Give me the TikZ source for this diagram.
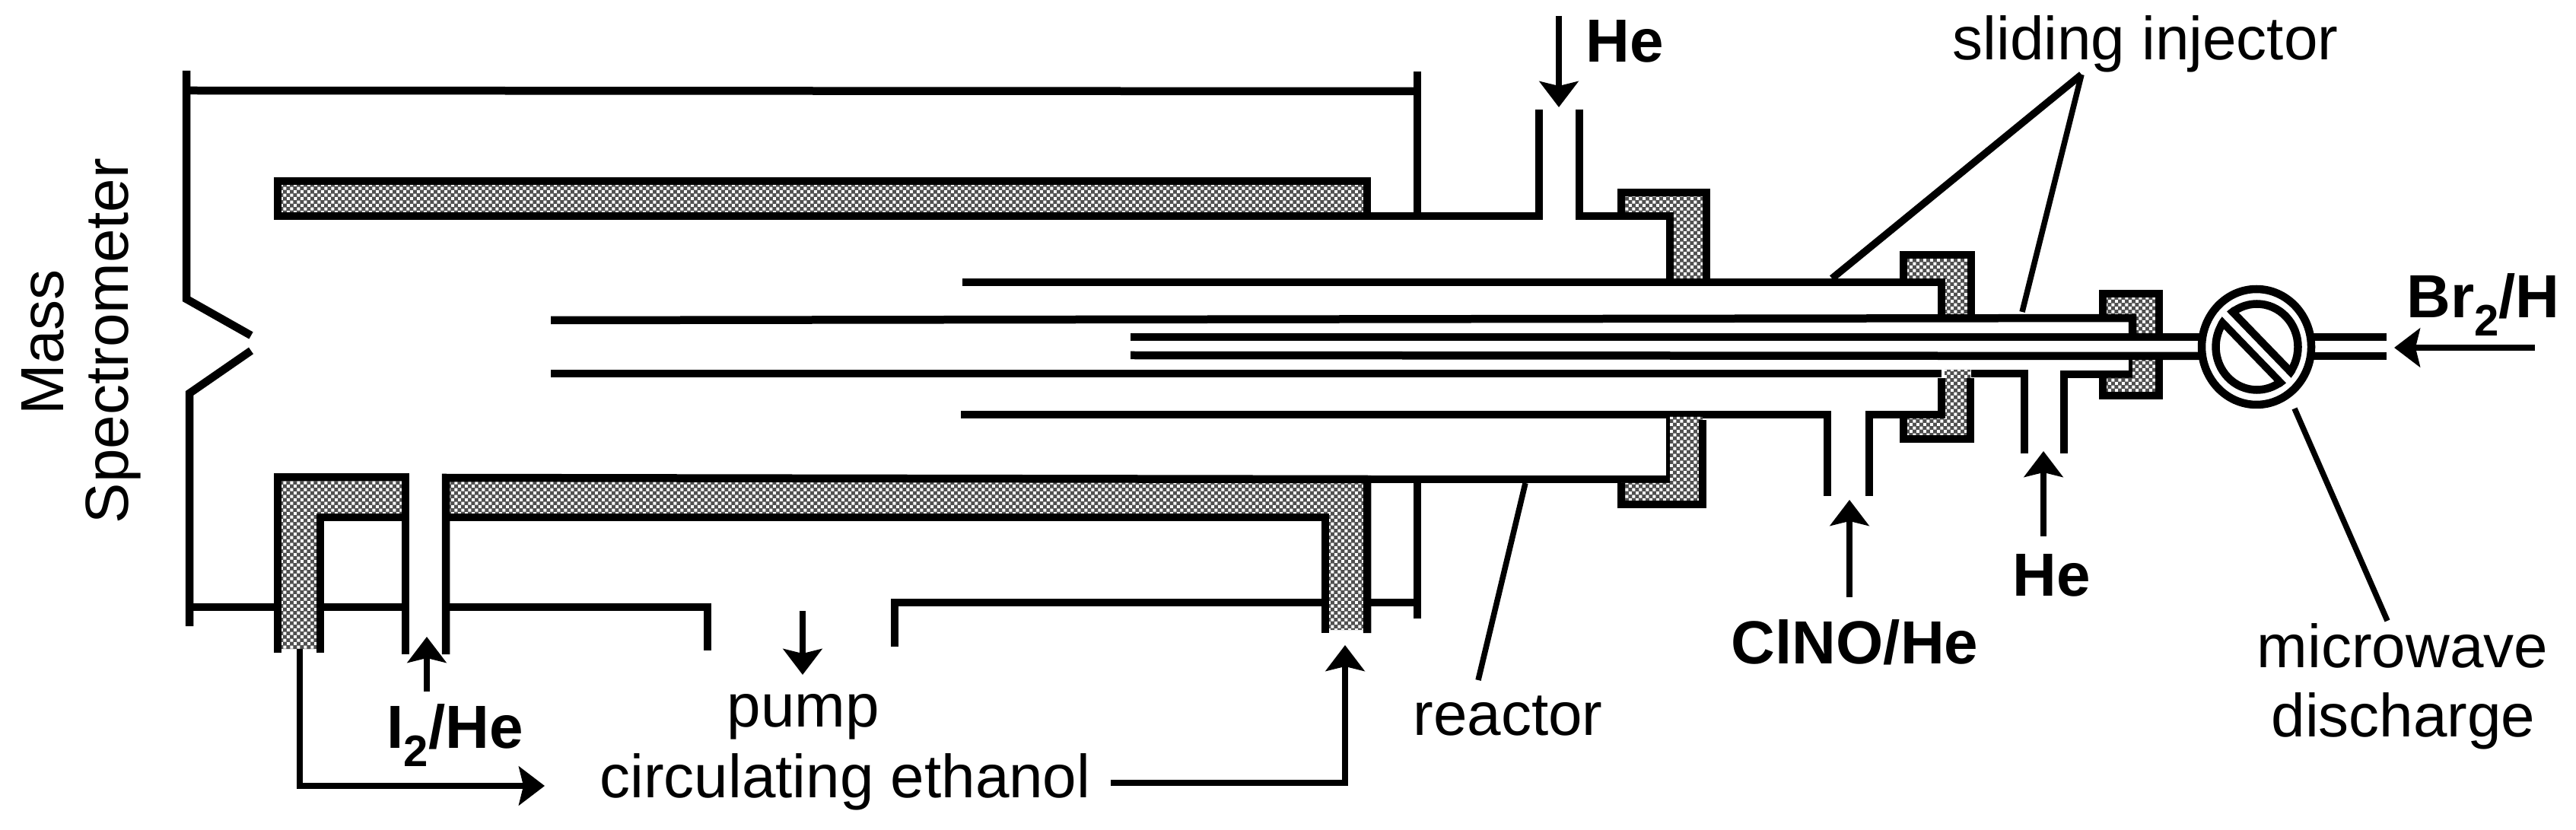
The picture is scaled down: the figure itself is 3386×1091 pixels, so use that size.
\documentclass[tikz,border=0pt]{standalone}
\usepackage{fontspec}
\setmainfont{Liberation Sans}
\usetikzlibrary{arrows.meta,patterns}
\definecolor{chkc}{HTML}{505050}
\pgfdeclarepatternformonly{chk}{\pgfpointorigin}{\pgfpoint{.9mm}{.9mm}}{\pgfpoint{.9mm}{.9mm}}{%
  \pgfpathrectangle{\pgfpointorigin}{\pgfpoint{.4mm}{.4mm}}%
  \pgfpathrectangle{\pgfpoint{.45mm}{.45mm}}{\pgfpoint{.4mm}{.4mm}}%
  \pgfusepath{fill}}
\newcommand{\subtwo}{\raisebox{-2.4mm}{\fontsize{5.8mm}{6mm}\selectfont 2}}
\tikzset{
  wall/.style={line width=1.05mm,line cap=butt,line join=miter},
  chkfill/.style={fill=chkc,postaction={pattern=chk,pattern color=white}},
  leaderthick/.style={line width=.95mm},
  leaderthin/.style={line width=.75mm},
  flow/.style={line width=.8mm,-{Stealth[length=3.4mm,width=5.1mm,inset=.6mm]}},
  lab/.style={anchor=base,inner sep=0pt,font=\fontsize{8mm}{9mm}\selectfont,align=center},
  blab/.style={anchor=base,inner sep=0pt,font=\fontsize{8mm}{9mm}\selectfont\bfseries}
}
\begin{document}
\begin{tikzpicture}[x=.1mm,y=-.1mm]
\useasboundingbox (0,0) rectangle (3386,1091);
% hatched bodies under the lines
\fill[chkfill] (365,238) rectangle (1797,284);
\fill[chkfill] (365,853) -- (365,627) -- (533,627) -- (533,680) -- (421,680) -- (421,853) -- cycle;
\fill[chkfill] (586,628) -- (1797,630) -- (1797,828) -- (1742,828) -- (1742,680) -- (586,680) -- cycle;
\fill[chkfill] (2131,284) -- (2131,253) -- (2243,253) -- (2243,370) -- (2195,370) -- (2195,284) -- cycle;
\fill[chkfill] (2502,371) -- (2502,335) -- (2591,335) -- (2591,418) -- (2552,418) -- (2552,371) -- cycle;
\fill[chkfill] (2764,418) -- (2764,386) -- (2838,386) -- (2838,443) -- (2803,443) -- (2803,418) -- cycle;
% outer chamber
\draw[wall] (245,93) -- (245,393) -- (330,441);
\draw[wall] (330,461) -- (249,517) -- (249,823);
\draw[wall] (245,119) -- (1863,120);
\draw[wall] (1863,94) -- (1863,284);
\draw[wall] (1863,630) -- (1863,813);
\draw[wall] (249,798) -- (365,798);
\draw[wall] (421,798) -- (533,798);
\draw[wall] (586,798) -- (930,798) -- (930,855);
\draw[wall] (1176,850) -- (1176,792) -- (1742,792);
\draw[wall] (1797,792) -- (1863,792);
% cooling jacket
\draw[wall] (1797,284) -- (365,284) -- (365,238) -- (1797,238) -- (1797,284) -- (2023,284) -- (2023,144);
\draw[wall] (365,858) -- (365,627) -- (533,627) -- (533,860);
\draw[wall] (421,858) -- (421,680) -- (533,680);
\draw[wall] (586,860) -- (586,628) -- (1797,630) -- (1797,832);
\draw[wall] (586,680) -- (1742,680) -- (1742,832);
% reactor
\draw[wall] (2076,144) -- (2076,284) -- (2195,284) -- (2195,370);
\draw[wall] (2131,284) -- (2131,253) -- (2243,253) -- (2243,366);
\draw[wall] (1797,630) -- (2195,630) -- (2195,545);
% reactor-side tube
\draw[wall] (1265,371) -- (2552,371) -- (2552,418);
\draw[wall] (2502,371) -- (2502,335) -- (2591,335) -- (2591,416);
\draw[wall] (1263,545) -- (2402,545) -- (2402,652);
\draw[wall] (2457,652) -- (2457,545) -- (2552,545) -- (2552,497);
% injector
\draw[wall] (724,421) -- (2803,418) -- (2803,443);
\draw[wall] (2764,418) -- (2764,386) -- (2838,386) -- (2838,443);
\draw[wall] (724,491) -- (2552,491);
\draw[wall] (2591,491) -- (2661,491) -- (2661,596);
\draw[wall] (2713,596) -- (2713,492) -- (2803,492) -- (2803,467);
% lower hatched flanges
\fill[chkfill] (2195,548) -- (2238,548) -- (2238,663) -- (2131,663) -- (2131,635) -- (2195,635) -- cycle;
\draw[wall] (2131,635) -- (2131,663) -- (2238,663) -- (2238,552);
\fill[chkfill] (2556,486) -- (2590,486) -- (2590,577) -- (2502,577) -- (2502,550) -- (2556,550) -- cycle;
\draw[wall] (2552,497) -- (2552,545) -- (2502,545) -- (2502,577) -- (2590,577) -- (2590,497);
\fill[chkfill] (2803,472) -- (2838,472) -- (2838,520) -- (2764,520) -- (2764,497) -- (2803,497) -- cycle;
\draw[wall] (2764,492) -- (2764,520) -- (2838,520) -- (2838,472);
% innermost tube
\draw[wall] (1486,443) -- (2893,443);
\draw[wall] (1486,467) -- (2893,468);
\draw[wall] (3040,443) -- (3137,443);
\draw[wall] (3040,468) -- (3137,468);
% microwave discharge
\filldraw[line width=1.05mm,fill=white] (2966,456) ellipse [x radius=7.2mm,y radius=7.6mm];
\draw[line width=1.05mm] (2966.5,456) ellipse [x radius=5.4mm,y radius=5.65mm];
\begin{scope}
\clip (2966.5,456) ellipse [x radius=5.95mm,y radius=6.2mm];
\draw[line width=2.9mm] (2905,393) -- (3028,520);
\end{scope}
\draw[white,line width=.9mm] (2921,410) -- (3012,504);
% labels
\node[blab] (lhe1) at (2136,82) {He};
\node[lab] (lsi) at (2820,79) {sliding injector};
\node[lab,rotate=90] (lmass) at (83,450) {Mass};
\node[lab,rotate=90] (lspec) at (168,448) {Spectrometer};
\node[blab] (li2) at (598,983) {I\subtwo/He};
\node[lab] (lpump) at (1056,955) {pump};
\node[lab] (lcirc) at (1111,1048) {circulating ethanol};
\node[lab] (lreact) at (1982,966) {reactor};
\node[blab] (lclno) at (2438,872) {ClNO/He};
\node[blab] (lhe2) at (2697,783) {He};
\node[lab] (lmw) at (3158,877) {microwave};
\node[lab] (ldis) at (3159,968) {discharge};
\node[blab] (lbr) at (3264,418) {Br\subtwo/H};
% leader ends
\coordinate (apex) at (2736,98);
\coordinate (tubeA) at (2408,366);
\coordinate (tubeB) at (2658,410);
\coordinate (mwA) at (3016,537);
\coordinate (mwB) at (3138,816);
\coordinate (reA) at (2005,635);
\coordinate (reB) at (1943,894);
\draw[leaderthick] (apex) -- (tubeA);
\draw[leaderthin] (apex) -- (tubeB);
\draw[leaderthin] (mwA) -- (mwB);
\draw[leaderthin] (reA) -- (reB);
% flow arrows
\coordinate (heS) at (2049,21);   \coordinate (heE) at (2049,141);
\coordinate (i2S) at (561,909);   \coordinate (i2E) at (561,837);
\coordinate (puS) at (1055,803);  \coordinate (puE) at (1055,887);
\coordinate (ciS) at (394,853);   \coordinate (ciC) at (394,1033); \coordinate (ciE) at (716,1033);
\coordinate (etS) at (1460,1029); \coordinate (etC) at (1768,1029); \coordinate (etE) at (1768,848);
\coordinate (clS) at (2431,785);  \coordinate (clE) at (2431,657);
\coordinate (h2S) at (2686,705);  \coordinate (h2E) at (2686,593);
\coordinate (brS) at (3332,457);  \coordinate (brE) at (3147,457);
\draw[flow] (heS) -- (heE);
\draw[flow] (i2S) -- (i2E);
\draw[flow] (puS) -- (puE);
\draw[flow] (ciS) -- (ciC) -- (ciE);
\draw[flow] (etS) -- (etC) -- (etE);
\draw[flow] (clS) -- (clE);
\draw[flow] (h2S) -- (h2E);
\draw[flow] (brS) -- (brE);
\end{tikzpicture}
\end{document}
